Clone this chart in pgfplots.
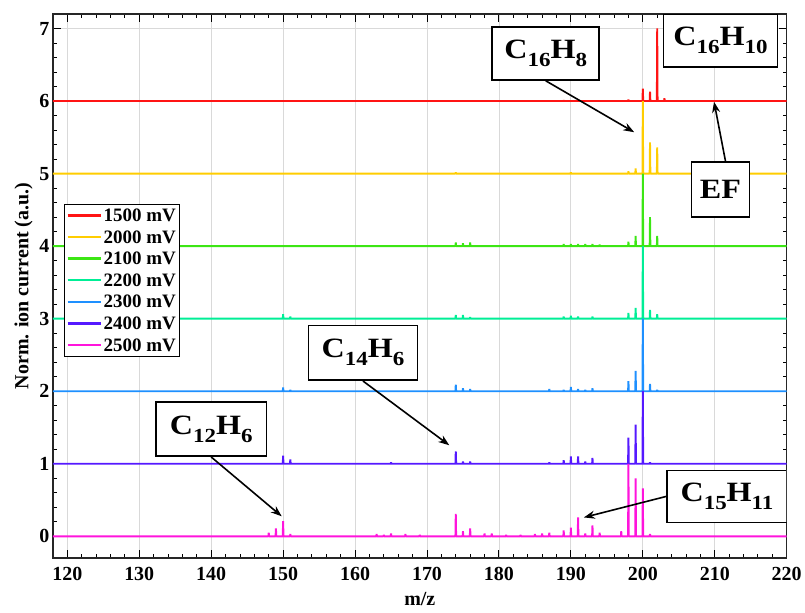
\documentclass[border=0pt]{standalone}
\usepackage{pgfplots}
\pgfplotsset{compat=1.18}
\usepackage{fontspec}
\setmainfont{Liberation Serif}
\usetikzlibrary{arrows.meta}
\definecolor{cA}{RGB}{255,20,20}
\definecolor{cB}{RGB}{255,205,0}
\definecolor{cC}{RGB}{60,230,20}
\definecolor{cD}{RGB}{0,238,150}
\definecolor{cE}{RGB}{30,144,255}
\definecolor{cF}{RGB}{85,25,255}
\definecolor{cG}{RGB}{255,20,220}
\newcommand\sub[1]{\raisebox{-8pt}{\fontsize{20}{21}\selectfont #1}}
\newcommand\lab[1]{\scalebox{1.15}[1]{\fontsize{28}{30}\selectfont\bfseries #1}}
\begin{document}
\begin{tikzpicture}
\begin{axis}[
  width=735pt, height=545pt, scale only axis,
  xmin=118, xmax=220, ymin=-0.3, ymax=7.2,
  xtick={120,130,...,220}, ytick={0,1,...,7},
  minor x tick num=4, minor y tick num=4,
  tick align=inside,
  major tick length=8pt, minor tick length=4pt,
  every tick/.style={black, line width=0.9pt},
  axis line style={black!85, line width=1.3pt},
  grid=major, major grid style={black!15, line width=0.8pt},
  xlabel={m/z}, ylabel={Norm. ion current (a.u.)},
  label style={font=\bfseries\fontsize{20}{22}\selectfont},
  xlabel style={yshift=-4pt},
  tick label style={font=\bfseries\fontsize{20}{22}\selectfont},
  /pgf/number format/assume math mode=true,
  xticklabel style={yshift=-6pt},
  legend style={at={(0.015,0.65)}, anchor=north west, draw=black, line width=0.9pt,
    font=\bfseries\fontsize{19}{21}\selectfont, fill=white, inner sep=2pt,
    row sep=3.5pt},
  legend cell align=left,
  legend image code/.code={\draw[#1, line width=2.4pt] (0pt,0.5pt) -- (33pt,0.5pt);},
  every axis plot/.append style={line width=1.9pt, line join=bevel, line cap=butt},
]
\addplot[cA] coordinates {(118,6) (188.95,6)(189,6.01)(189.05,6) (197.95,6)(198,6.02)(198.05,6) (199.95,6)(200,6.17)(200.05,6) (200.95,6)(201,6.13)(201.05,6) (201.95,6)(202,7.0)(202.05,6) (202.95,6)(203,6.04)(203.05,6) (220,6)};
\addlegendentry{1500 mV}
\addplot[cB] coordinates {(118,5) (173.95,5)(174,5.015)(174.05,5) (189.95,5)(190,5.015)(190.05,5) (197.95,5)(198,5.03)(198.05,5) (198.95,5)(199,5.07)(199.05,5) (199.95,5)(200,6.0)(200.05,5) (200.95,5)(201,5.43)(201.05,5) (201.95,5)(202,5.36)(202.05,5) (220,5)};
\addlegendentry{2000 mV}
\addplot[cC] coordinates {(118,4) (173.95,4)(174,4.05)(174.05,4) (174.95,4)(175,4.04)(175.05,4) (175.95,4)(176,4.05)(176.05,4) (188.95,4)(189,4.03)(189.05,4) (189.95,4)(190,4.03)(190.05,4) (190.95,4)(191,4.03)(191.05,4) (191.95,4)(192,4.03)(192.05,4) (192.95,4)(193,4.03)(193.05,4) (193.95,4)(194,4.02)(194.05,4) (197.95,4)(198,4.06)(198.05,4) (198.95,4)(199,4.14)(199.05,4) (199.95,4)(200,5.0)(200.05,4) (200.95,4)(201,4.4)(201.05,4) (201.95,4)(202,4.14)(202.05,4) (220,4)};
\addlegendentry{2100 mV}
\addplot[cD] coordinates {(118,3) (149.95,3)(150,3.06)(150.05,3) (150.95,3)(151,3.03)(151.05,3) (173.95,3)(174,3.05)(174.05,3) (174.95,3)(175,3.05)(175.05,3) (175.95,3)(176,3.02)(176.05,3) (188.95,3)(189,3.03)(189.05,3) (189.95,3)(190,3.04)(190.05,3) (190.95,3)(191,3.03)(191.05,3) (192.95,3)(193,3.03)(193.05,3) (197.95,3)(198,3.08)(198.05,3) (198.95,3)(199,3.15)(199.05,3) (199.95,3)(200,4.0)(200.05,3) (200.95,3)(201,3.12)(201.05,3) (201.95,3)(202,3.06)(202.05,3) (220,3)};
\addlegendentry{2200 mV}
\addplot[cE] coordinates {(118,2) (149.95,2)(150,2.05)(150.05,2) (150.95,2)(151,2.02)(151.05,2) (173.95,2)(174,2.09)(174.05,2) (174.95,2)(175,2.04)(175.05,2) (175.95,2)(176,2.03)(176.05,2) (186.95,2)(187,2.03)(187.05,2) (188.95,2)(189,2.02)(189.05,2) (189.95,2)(190,2.06)(190.05,2) (190.95,2)(191,2.03)(191.05,2) (191.95,2)(192,2.02)(192.05,2) (192.95,2)(193,2.04)(193.05,2) (197.95,2)(198,2.14)(198.05,2) (198.95,2)(199,2.28)(199.05,2) (199.95,2)(200,3.0)(200.05,2) (200.95,2)(201,2.1)(201.05,2) (201.95,2)(202,2.02)(202.05,2) (220,2)};
\addlegendentry{2300 mV}
\addplot[cF] coordinates {(118,1) (149.95,1)(150,1.11)(150.05,1) (150.95,1)(151,1.06)(151.05,1) (164.95,1)(165,1.02)(165.05,1) (173.95,1)(174,1.17)(174.05,1) (174.95,1)(175,1.03)(175.05,1) (175.95,1)(176,1.03)(176.05,1) (186.95,1)(187,1.02)(187.05,1) (188.95,1)(189,1.05)(189.05,1) (189.95,1)(190,1.1)(190.05,1) (190.95,1)(191,1.1)(191.05,1) (191.95,1)(192,1.03)(192.05,1) (192.95,1)(193,1.08)(193.05,1) (197.95,1)(198,1.36)(198.05,1) (198.95,1)(199,1.54)(199.05,1) (199.95,1)(200,2.0)(200.05,1) (200.95,1)(201,1.02)(201.05,1) (220,1)};
\addlegendentry{2400 mV}
\addplot[cG] coordinates {(118,0) (147.95,0)(148,0.05)(148.05,0) (148.95,0)(149,0.11)(149.05,0) (149.95,0)(150,0.21)(150.05,0) (150.95,0)(151,0.03)(151.05,0) (162.95,0)(163,0.03)(163.05,0) (163.95,0)(164,0.02)(164.05,0) (164.95,0)(165,0.04)(165.05,0) (166.95,0)(167,0.03)(167.05,0) (168.95,0)(169,0.02)(169.05,0) (173.95,0)(174,0.31)(174.05,0) (174.95,0)(175,0.07)(175.05,0) (175.95,0)(176,0.11)(176.05,0) (177.95,0)(178,0.04)(178.05,0) (178.95,0)(179,0.04)(179.05,0) (180.95,0)(181,0.02)(181.05,0) (182.95,0)(183,0.02)(183.05,0) (184.95,0)(185,0.03)(185.05,0) (185.95,0)(186,0.04)(186.05,0) (186.95,0)(187,0.05)(187.05,0) (188.95,0)(189,0.08)(189.05,0) (189.95,0)(190,0.12)(190.05,0) (190.95,0)(191,0.26)(191.05,0) (191.95,0)(192,0.04)(192.05,0) (192.95,0)(193,0.15)(193.05,0) (193.95,0)(194,0.05)(194.05,0) (196.95,0)(197,0.07)(197.05,0) (197.95,0)(198,1.0)(198.05,0) (198.95,0)(199,0.8)(199.05,0) (199.95,0)(200,0.66)(200.05,0) (200.95,0)(201,0.03)(201.05,0) (220,0)};
\addlegendentry{2500 mV}
\tikzset{lbl/.style={draw=black, line width=1.6pt, fill=white, inner sep=2pt},
  arr/.style={-{Stealth[length=11pt,width=8pt]}, line width=1.6pt, black}}
\node[lbl, minimum width=107pt, minimum height=53pt] (a) at (axis cs:186.5,6.655) {\lab{C\sub{16}H\sub{8}}};
\node[lbl, minimum width=114pt, minimum height=53pt] (b) at (axis cs:210.8,6.83) {\lab{C\sub{16}H\sub{10}}};
\node[lbl, minimum width=58pt, minimum height=55pt] (c) at (axis cs:210.8,4.78) {\lab{EF}};
\node[lbl, minimum width=109pt, minimum height=55pt] (d) at (axis cs:161.1,2.53) {\lab{C\sub{14}H\sub{6}}};
\node[lbl, minimum width=111pt, minimum height=54pt] (e) at (axis cs:140.0,1.476) {\lab{C\sub{12}H\sub{6}}};
\node[lbl, minimum width=120pt, minimum height=52pt] (f) at (axis cs:211.7,0.55) {\lab{C\sub{15}H\sub{11}}};
\draw[arr] (a.south) -- (axis cs:198.8,5.57);
\draw[arr] ([xshift=5pt]c.north) -- (axis cs:209.9,5.99);
\draw[arr] (d.south) -- (axis cs:173.1,1.255);
\draw[arr] (e.south) -- (axis cs:149.8,0.276);
\draw[arr] (f.west) -- (axis cs:191.8,0.26);
\end{axis}
\path ([shift={(-53pt,-55pt)}]current axis.south west) rectangle ([shift={(17pt,14pt)}]current axis.north east);
\end{tikzpicture}
\end{document}
